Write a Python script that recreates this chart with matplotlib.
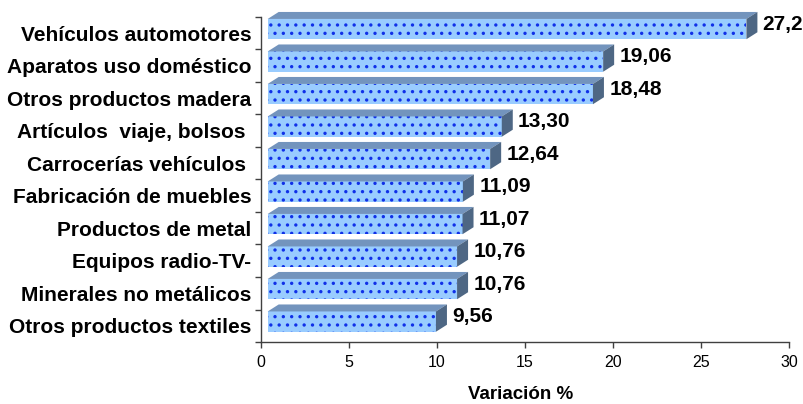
import matplotlib
matplotlib.use("Agg")
import matplotlib.pyplot as plt
from matplotlib.patches import Polygon
import numpy as np

plt.rcParams['font.family'] = ['Liberation Sans', 'DejaVu Sans']
plt.rcParams['hatch.linewidth'] = 1.2

categories = ["Vehículos automotores", "Aparatos uso doméstico", "Otros productos madera",
              "Artículos  viaje, bolsos ", "Carrocerías vehículos ", "Fabricación de muebles",
              "Productos de metal", "Equipos radio-TV-", "Minerales no metálicos",
              "Otros productos textiles"]
values = [27.2, 19.06, 18.48, 13.30, 12.64, 11.09, 11.07, 10.76, 10.76, 9.56]
value_labels = ["27,2", "19,06", "18,48", "13,30", "12,64", "11,09", "11,07", "10,76", "10,76", "9,56"]
x_ticks = [0, 5, 10, 15, 20, 25, 30]

front_col = '#99CCFF'
dot_col = '#1030E8'
top_col = '#7394BD'
side_col = '#4E6784'
axis_col = '#404040'

fig = plt.figure(figsize=(8.04, 4.04), dpi=100)
ax = fig.add_axes([261/804, 62/404, 528/804, 325/404])
ax.set_xlim(0, 30)
ax.set_ylim(0, 10)

n = len(categories)
yc = np.arange(n)[::-1] + 0.5
x_off = 0.38
y_lo = 0.184
y_hi = 0.44
dx = 0.625
dy = 0.215

ax.barh(yc - y_lo, values, left=x_off, height=y_lo + y_hi, align='edge',
        color=front_col, edgecolor=dot_col, linewidth=0, hatch='..', zorder=3)
for v, y, lab in zip(values, yc, value_labels):
    x0 = x_off
    x1 = v + x_off
    yt = y + y_hi
    yb = y - y_lo
    ax.add_patch(Polygon([(x0, yt), (x0 + dx, yt + dy), (x1 + dx, yt + dy), (x1, yt)],
                         closed=True, facecolor=top_col, edgecolor='none', zorder=3, clip_on=False))
    ax.add_patch(Polygon([(x1, yb), (x1, yt), (x1 + dx, yt + dy), (x1 + dx, yb + dy)],
                         closed=True, facecolor=side_col, edgecolor='none', zorder=3, clip_on=False))
    ax.text(x1 + dx + 0.3, y + 0.27, lab, ha='left', va='center', fontsize=15,
            fontweight='bold', color='black', clip_on=False)

for s in ['top', 'right']:
    ax.spines[s].set_visible(False)
for s in ['left', 'bottom']:
    ax.spines[s].set_linewidth(1.0)
    ax.spines[s].set_color(axis_col)

ax.set_yticks(yc)
ax.set_yticklabels(categories, fontsize=15, fontweight='bold')
ax.tick_params(axis='y', which='major', length=0, pad=7)
ax.set_yticks(np.arange(0, n + 1), minor=True)
ax.tick_params(axis='y', which='minor', length=4.3, width=1, direction='out', color=axis_col)

ax.set_xticks(x_ticks)
ax.set_xticklabels([str(t) for t in x_ticks], fontsize=11.5)
ax.tick_params(axis='x', length=4.5, width=1, direction='out', pad=5, color=axis_col)

fig.text(521/804, 5/404, "Variación %", ha='center', va='baseline', fontsize=13.5, fontweight='bold')

fig.savefig('out.png', dpi=100)
